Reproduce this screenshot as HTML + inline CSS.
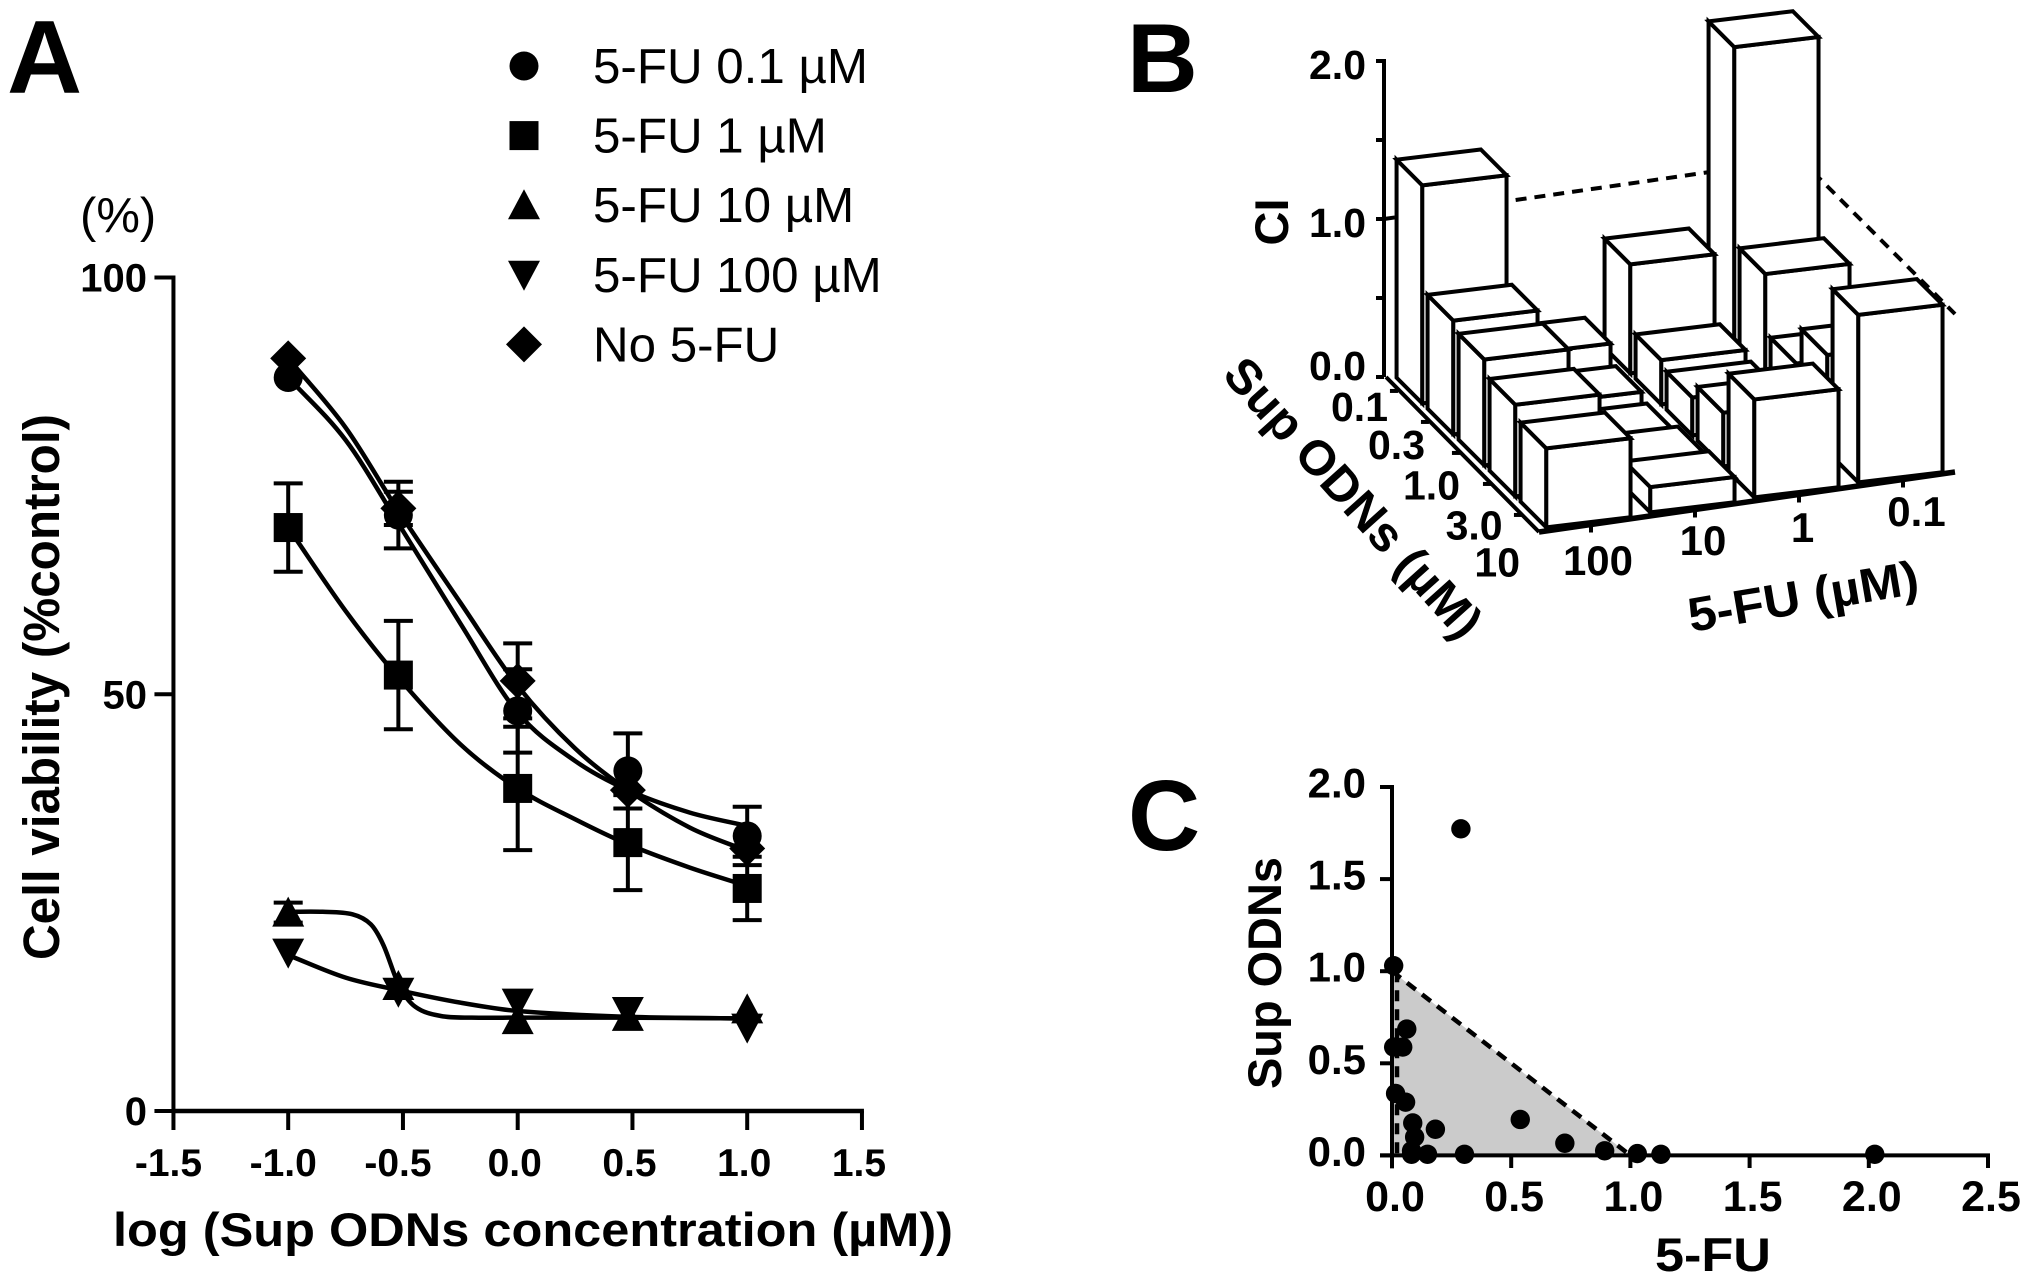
<!DOCTYPE html>
<html lang="en">
<head>
<meta charset="utf-8">
<title>Cell viability, combination index and isobologram</title>
<style>
html,body{margin:0;padding:0;background:#fff;}
svg{display:block;font-family:"Liberation Sans",Arial,sans-serif;}
</style>
</head>
<body>
<svg id="figure" xmlns="http://www.w3.org/2000/svg" width="2031" height="1286" viewBox="0 0 2031 1286">
  <rect x="0" y="0" width="2031" height="1286" fill="#ffffff"/>
  <g id="panelA"></g>
  <g id="panelB"></g>
  <g id="panelC"></g>
</svg>
<script>
// ---------- Panel A data ----------
const doseLog = [-1, -0.52, 0, 0.48, 1];
const viab01 = [88, 71.5, 48, 40.8, 33];
const viab1 = [70, 52.3, 38.7, 32.2, 26.7];
const viab10 = [23.8, 15, 10.9, 11.3, 12.2];
const viab100 = [19, 14.3, 13, 12, 10];
const viabNo = [90.3, 72.3, 51.6, 38.5, 31.5];
const err01 = [0, 4, 5, 4.5, 3.5];
const err1 = [5.3, 6.5, 7.4, 5.7, 3.8];
const err10 = [1.2, 0, 0, 0, 0];
const err100 = [0, 0, 0, 0, 0];
const errNo = [0, 2, 4.5, 0, 0];
const fitX01 = [-1, -0.75, -0.52, -0.25, 0, 0.25, 0.48, 0.75, 1];
const fitY01 = [88, 80.5, 70.5, 58.5, 47.8, 42, 38.5, 35.8, 34.2];
const fitX1 = [-1, -0.75, -0.52, -0.25, 0, 0.25, 0.48, 0.75, 1];
const fitY1 = [70, 60, 52, 44, 38.7, 35, 32, 29.2, 27];
const fitX10 = [-1, -0.85, -0.72, -0.64, -0.585, -0.516, -0.446, -0.335, -0.2, 0, 0.48, 1];
const fitY10 = [23.9, 23.9, 23.6, 22.4, 19.9, 15, 12.5, 11.4, 11.2, 11.2, 11.2, 11.1];
const fitX100 = [-1, -0.75, -0.52, -0.25, 0, 0.48, 1];
const fitY100 = [18.7, 16, 14.5, 13, 12, 11.3, 11.1];
const fitXNo = [-1, -0.75, -0.52, -0.25, 0, 0.25, 0.48, 0.75, 1];
const fitYNo = [90.3, 82, 72, 61, 51, 43.5, 38.5, 34, 31.2];
const ticksAX = ['-1.5', '-1.0', '-0.5', '0.0', '0.5', '1.0', '1.5'];
const ticksAY = ['0', '50', '100'];
const legendLabels = ['5-FU 0.1 µM', '5-FU 1 µM', '5-FU 10 µM', '5-FU 100 µM', 'No 5-FU'];
const legendKinds = ['circle', 'square', 'up', 'down', 'diamond'];

// ---------- Panel B data (columns: 5-FU 100, 10, 1, 0.1) ----------
const fuLabels = ['100', '10', '1', '0.1'];
const supLabels = ['0.1', '0.3', '1.0', '3.0', '10'];
const ciSup01 = [1.38, 0.22, 0.69, 1.97];
const ciSup03 = [0.72, 0.11, 0.28, 0.73];
const ciSup10 = [0.67, 0.07, 0.24, 0.36];
const ciSup30 = [0.58, 0.12, 0.34, 0.61];
const ciSup100 = [0.5, 0.16, 0.62, 1.06];
const ticksBZ = ['0.0', '1.0', '2.0'];

// ---------- Panel C data ----------
const isoFu = [0.289, 0.007, 0.062, 0.007, 0.045, 0.015, 0.057, 0.087, 0.182, 0.538, 0.095, 0.082, 0.149, 0.304, 0.082, 0.725, 0.892, 1.029, 1.128, 2.025];
const isoSup = [1.773, 1.03, 0.686, 0.588, 0.588, 0.336, 0.289, 0.176, 0.142, 0.195, 0.1, 0.025, 0.006, 0.006, 0.006, 0.066, 0.025, 0.01, 0.006, 0.006];
const ticksCX = ['0.0', '0.5', '1.0', '1.5', '2.0', '2.5'];
const ticksCY = ['0.0', '0.5', '1.0', '1.5', '2.0'];

// ---------- Helpers ----------
const NS = 'http://www.w3.org/2000/svg';
function make(tag, attrs, parent, name) {
  const el = document.createElementNS(NS, tag);
  for (const k in attrs) el.setAttribute(k, attrs[k]);
  
  
  parent.appendChild(el);
  return el;
}
function line(parent, x1, y1, x2, y2, w, name, dash) {
  const a = {x1: x1, y1: y1, x2: x2, y2: y2, stroke: '#000', 'stroke-width': w};
  if (dash) a['stroke-dasharray'] = dash;
  return make('line', a, parent, name);
}
function label(parent, str, x, y, size, weight, anchor, name, extra) {
  const a = {x: x, y: y, 'font-size': size, 'font-weight': weight, 'text-anchor': anchor, fill: '#000'};
  if (extra) for (const k in extra) a[k] = extra[k];
  const t = make('text', a, parent, name);
  t.textContent = str;
  return t;
}
function marker(parent, kind, cx, cy, name) {
  if (kind === 'circle') return make('circle', {cx: cx, cy: cy, r: 14.5, fill: '#000'}, parent, name);
  if (kind === 'square') return make('rect', {x: cx - 14.5, y: cy - 14.5, width: 29, height: 29, fill: '#000'}, parent, name);
  let pts;
  if (kind === 'up') pts = [[cx, cy - 16], [cx + 16, cy + 14], [cx - 16, cy + 14]];
  if (kind === 'down') pts = [[cx, cy + 16], [cx + 16, cy - 14], [cx - 16, cy - 14]];
  if (kind === 'diamond') pts = [[cx, cy - 18], [cx + 18, cy], [cx, cy + 18], [cx - 18, cy]];
  return make('polygon', {points: pts.map(p => p.join(',')).join(' '), fill: '#000'}, parent, name);
}
function smoothPath(pts) {
  const n = pts.length;
  const slope = i => {
    const a = pts[Math.max(i - 1, 0)], b = pts[Math.min(i + 1, n - 1)];
    return (b[1] - a[1]) / (b[0] - a[0]);
  };
  let d = 'M' + pts[0][0] + ',' + pts[0][1];
  for (let i = 0; i < n - 1; i++) {
    const p1 = pts[i], p2 = pts[i + 1], dx = p2[0] - p1[0];
    d += ' C' + (p1[0] + dx / 3) + ',' + (p1[1] + slope(i) * dx / 3) + ' ' + (p2[0] - dx / 3) + ',' + (p2[1] - slope(i + 1) * dx / 3) + ' ' + p2[0] + ',' + p2[1];
  }
  return d;
}

// ---------- Panel A ----------
(function () {
  const g = document.getElementById('panelA');
  const xA = v => 517.7 + v * 229.5;
  const yA = v => 1111 - v * 8.335;
  label(g, 'A', 7, 93, 104, 'bold', 'start', 'panel-a-letter');
  label(g, '(%)', 80, 232, 49, 'normal', 'start', 'y-unit-label');

  line(g, xA(-1.5), yA(100) - 2, xA(-1.5), yA(0) + 2, 4, 'y-axis-line');
  line(g, xA(-1.5) - 2, yA(0), xA(1.5) + 2, yA(0), 4.5, 'x-axis-line');
  ticksAY.forEach(t => {
    line(g, xA(-1.5) - 19, yA(+t), xA(-1.5), yA(+t), 4, 'y-tick');
    label(g, t, 147, yA(+t) + 14, 40, 'bold', 'end', 'y-tick-label');
  });
  ticksAX.forEach(t => {
    line(g, xA(+t), yA(0), xA(+t), 1130, 4, 'x-tick');
    label(g, t, xA(+t) + (t[0] === '-' ? -5 : -3), 1176, 39, 'bold', 'middle', 'x-tick-label');
  });
  label(g, 'log (Sup ODNs concentration (µM))', 113, 1246, 47, 'bold', 'start', 'x-axis-title', {textLength: 840, lengthAdjust: 'spacingAndGlyphs'});
  label(g, 'Cell viability (%control)', 0, 0, 51, 'bold', 'middle', 'y-axis-title', {transform: 'translate(59,687) rotate(-90)', textLength: 546, lengthAdjust: 'spacingAndGlyphs'});

  const series = [
    {key: 'fu-100', kind: 'down', vals: viab100, errs: err100, fx: fitX100, fy: fitY100},
    {key: 'fu-10', kind: 'up', vals: viab10, errs: err10, fx: fitX10, fy: fitY10},
    {key: 'fu-1', kind: 'square', vals: viab1, errs: err1, fx: fitX1, fy: fitY1},
    {key: 'fu-0-1', kind: 'circle', vals: viab01, errs: err01, fx: fitX01, fy: fitY01},
    {key: 'no-fu', kind: 'diamond', vals: viabNo, errs: errNo, fx: fitXNo, fy: fitYNo}
  ];
  series.forEach(s => {
    const pts = s.fx.map((x, i) => [xA(x), yA(s.fy[i])]);
    make('path', {d: smoothPath(pts), fill: 'none', stroke: '#000', 'stroke-width': 4.5}, g, 'curve-' + s.key);
    doseLog.forEach((x, i) => {
      const e = s.errs[i];
      if (e > 0) {
        const px = xA(x), hi = yA(s.vals[i] + e), lo = yA(s.vals[i] - e);
        line(g, px, hi, px, lo, 4, 'error-bar-' + s.key);
        line(g, px - 14.5, hi, px + 14.5, hi, 4, 'error-cap-' + s.key);
        line(g, px - 14.5, lo, px + 14.5, lo, 4, 'error-cap-' + s.key);
      }
    });
    doseLog.forEach((x, i) => {
      marker(g, s.kind, xA(x), yA(s.vals[i]), 'point-' + s.key);
    });
  });

  legendLabels.forEach((t, i) => {
    const ly = 66 + i * 69.6;
    marker(g, legendKinds[i], 524, ly, 'legend-marker');
    label(g, t, 593, ly + 17, 49.3, 'normal', 'start', 'legend-label');
  });
})();

// ---------- Panel B ----------
(function () {
  const g = document.getElementById('panelB');
  const ciRows = [ciSup01, ciSup03, ciSup10, ciSup30, ciSup100];
  const pr = (col, row, ci) => [1384 + row * 31 + col * 104, 377 + row * 31 - col * 15 - ci * 158];
  const str = list => list.map(p => p.join(',')).join(' ');
  label(g, 'B', 1127, 92, 98, 'bold', 'start', 'panel-b-letter');

  // z axis
  line(g, 1384, pr(0, 0, 2)[1] - 2, 1384, pr(0, 0, 0)[1], 4, 'z-axis-line');
  [0, 0.5, 1, 1.5, 2].forEach(v => {
    line(g, 1376, pr(0, 0, v)[1], 1384, pr(0, 0, v)[1], 4, 'z-tick');
  });
  [['0.0', 380], ['1.0', 237], ['2.0', 79]].forEach(p => {
    label(g, p[0], 1366, p[1], 41, 'bold', 'end', 'z-tick-label');
  });
  label(g, 'CI', 0, 0, 47, 'bold', 'middle', 'z-axis-title', {transform: 'translate(1288,222) rotate(-90)'});

  // dashed back wall at CI = 1
  const a = pr(0, 0, 1), b = pr(4, 0, 1), c = pr(4, 5, 1);
  line(g, a[0], a[1], b[0], b[1], 4, 'back-wall-dashed-line', '11 8');
  line(g, b[0], b[1], c[0], c[1], 4, 'side-wall-dashed-line', '11 8');

  // floor edges
  const o = pr(0, 0, 0), fl = pr(0, 5, 0), fr = pr(4, 5, 0);
  line(g, o[0] + 2, o[1], fl[0], fl[1], 4, 'sup-axis-line');
  line(g, o[0] + 18, o[1] + 2, fl[0] + 6, fl[1] - 8, 3.5, 'floor-inner-edge');

  // bars back to front, right to left
  const C0 = 0.1, W = 0.81, R0 = 0.07, R1 = 0.9, tilt = 2;
  const rt = (col, row, ci) => { const p = pr(col + W, row, ci); return [p[0], p[1] + tilt]; };
  ciRows.forEach((vals, r) => {
    for (let i = vals.length - 1; i >= 0; i--) {
      const col = i + C0;
      const h = vals[i];
      const st = {fill: '#fff', stroke: '#000', 'stroke-width': 4, 'stroke-linejoin': 'miter'};
      const bar = make('g', {}, g, 'bar-sup-' + supLabels[r] + '-fu-' + fuLabels[i]);
      make('polygon', Object.assign({points: str([pr(col, r + R0, h), pr(col, r + R1, h), pr(col, r + R1, 0), pr(col, r + R0, 0)])}, st), bar, 'bar-side-face');
      make('polygon', Object.assign({points: str([pr(col, r + R1, h), rt(col, r + R1, h), rt(col, r + R1, 0), pr(col, r + R1, 0)])}, st), bar, 'bar-front-face');
      make('polygon', Object.assign({points: str([pr(col, r + R0, h), rt(col, r + R0, h), rt(col, r + R1, h), pr(col, r + R1, h)])}, st), bar, 'bar-top-face');
    }
  });
  line(g, fl[0], fl[1], fr[0], fr[1], 5.5, 'fu-axis-line');

  // ticks & labels
  [[1598, 575], [1703, 555], [1802.5, 542], [1916.5, 526]].forEach((p, i) => {
    const tp = pr(i + 0.5, 5, 0);
    line(g, tp[0], tp[1], tp[0], tp[1] + 8, 4, 'fu-tick');
    label(g, fuLabels[i], p[0], p[1], 42, 'bold', 'middle', 'fu-tick-label');
  });
  [[1388, 421], [1425, 459], [1460, 499.6], [1502.6, 539.6], [1520, 576.6]].forEach((p, i) => {
    const tp = pr(0, i + 0.45, 0);
    line(g, tp[0] - 8, tp[1], tp[0], tp[1], 4, 'sup-tick');
    label(g, supLabels[i], p[0], p[1], 41, 'bold', 'end', 'sup-tick-label');
  });
  label(g, '5-FU (µM)', 0, 0, 48, 'bold', 'start', 'fu-axis-title', {transform: 'translate(1691,632) rotate(-9.6)', textLength: 233, lengthAdjust: 'spacingAndGlyphs'});
  label(g, 'Sup ODNs (µM)', 0, 0, 49, 'bold', 'start', 'sup-axis-title', {transform: 'translate(1221,376) rotate(48)', textLength: 358, lengthAdjust: 'spacingAndGlyphs'});
})();

// ---------- Panel C ----------
(function () {
  const g = document.getElementById('panelC');
  const xC = v => 1392 + v * 238.4;
  const yC = v => 1155.4 - v * 184.2;
  label(g, 'C', 1128, 850, 100, 'bold', 'start', 'panel-c-letter');
  make('polygon', {points: [[xC(0), yC(1)], [xC(1), yC(0)], [xC(0), yC(0)]].map(p => p.join(',')).join(' '), fill: '#cbcbcb'}, g, 'additive-region');
  line(g, xC(0), yC(1), xC(1), yC(0), 4.5, 'additivity-line', '11 8');
  line(g, xC(0) + 5, yC(1), xC(0) + 5, yC(0), 4.5, 'zero-dashed-line', '11 8');
  line(g, xC(0), yC(2) - 2, xC(0), yC(0) + 13, 4, 'y-axis-line');
  line(g, xC(0) - 12, yC(0), xC(2.5) + 2, yC(0), 4, 'x-axis-line');
  ticksCY.forEach(t => {
    line(g, xC(0) - 12, yC(+t), xC(0), yC(+t), 4, 'y-tick');
    label(g, t, 1366, yC(+t) + 10.5, 42, 'bold', 'end', 'y-tick-label');
  });
  ticksCX.forEach(t => {
    line(g, xC(+t), yC(0), xC(+t), 1168, 4, 'x-tick');
    label(g, t, xC(+t) + 3, 1211, 43, 'bold', 'middle', 'x-tick-label');
  });
  label(g, '5-FU', 1655, 1271, 47, 'bold', 'start', 'x-axis-title', {textLength: 116, lengthAdjust: 'spacingAndGlyphs'});
  label(g, 'Sup ODNs', 0, 0, 47, 'bold', 'middle', 'y-axis-title', {transform: 'translate(1281,973) rotate(-90)', textLength: 232, lengthAdjust: 'spacingAndGlyphs'});
  isoFu.forEach((x, i) => {
    make('circle', {cx: xC(x), cy: yC(isoSup[i]), r: 9.7, fill: '#000'}, g, 'isobologram-point');
  });
})();
</script>
</body>
</html>
